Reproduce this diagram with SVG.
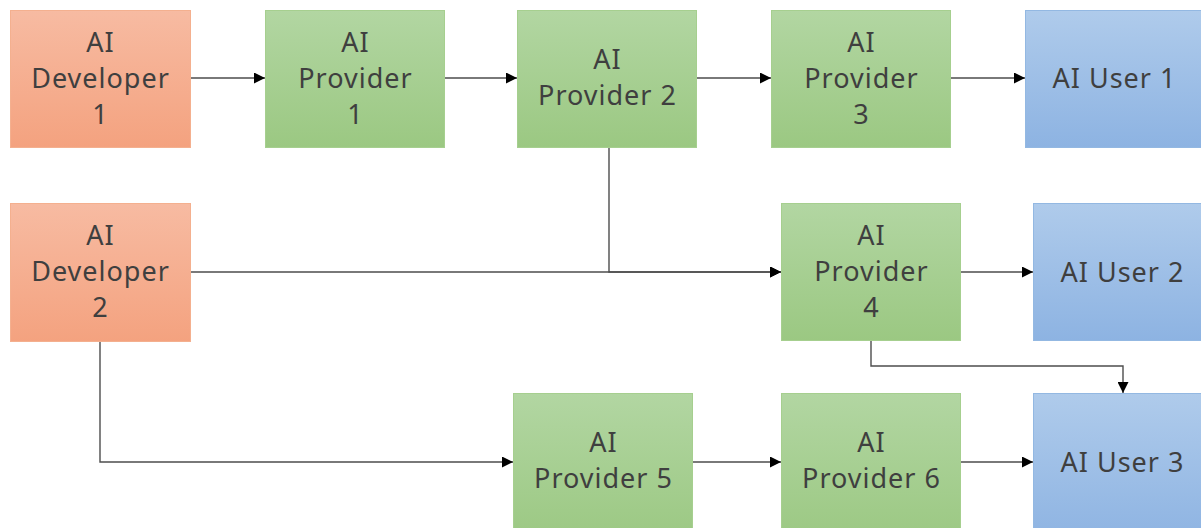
<svg xmlns="http://www.w3.org/2000/svg" width="1201" height="528" viewBox="0 0 1201 528">
  <style>
    .lbl { font-family: "Noto Sans", "DejaVu Sans", sans-serif; font-size: 27px; letter-spacing: 1px; fill: #3f3f3f; text-anchor: middle; }
    .dev { fill: url(#gDev); stroke: #f4b08f; stroke-width: 1; }
    .prov { fill: url(#gProv); stroke: #a6cf8f; stroke-width: 1; }
    .user { fill: url(#gUser); stroke: #93b8e2; stroke-width: 1; }
    .wire { fill: none; stroke: #4d4d4d; stroke-width: 1.4; }
  </style>
  <defs>
    <linearGradient id="gDev" x1="0" y1="0" x2="0" y2="1">
      <stop offset="0" stop-color="#f7bba2"/>
      <stop offset="1" stop-color="#f4a27f"/>
    </linearGradient>
    <linearGradient id="gProv" x1="0" y1="0" x2="0" y2="1">
      <stop offset="0" stop-color="#b2d6a2"/>
      <stop offset="1" stop-color="#9bc882"/>
    </linearGradient>
    <linearGradient id="gUser" x1="0" y1="0" x2="0" y2="1">
      <stop offset="0" stop-color="#afcbeb"/>
      <stop offset="1" stop-color="#8db3e2"/>
    </linearGradient>
    <marker id="arrow" viewBox="0 0 10 10" refX="10" refY="5" markerWidth="11" markerHeight="11" markerUnits="userSpaceOnUse" orient="auto">
      <path d="M0,0 L10,5 L0,10 z" fill="#000000"/>
    </marker>
  </defs>

  <!-- connectors -->
  <g id="connectors">
    <path class="wire" d="M191,78 H265" marker-end="url(#arrow)"/>
    <path class="wire" d="M444,78 H517" marker-end="url(#arrow)"/>
    <path class="wire" d="M697,78 H771" marker-end="url(#arrow)"/>
    <path class="wire" d="M951,78 H1025" marker-end="url(#arrow)"/>
    <path class="wire" d="M191,272 H781" marker-end="url(#arrow)"/>
    <path class="wire" d="M609,148 V272 H781" marker-end="url(#arrow)"/>
    <path class="wire" d="M961,272 H1033" marker-end="url(#arrow)"/>
    <path class="wire" d="M871,341 V366 H1123 V393" marker-end="url(#arrow)"/>
    <path class="wire" d="M100,342 V462 H513" marker-end="url(#arrow)"/>
    <path class="wire" d="M693,462 H781" marker-end="url(#arrow)"/>
    <path class="wire" d="M961,462 H1033" marker-end="url(#arrow)"/>
  </g>

  <!-- row 1 -->
  <g id="dev1">
    <rect class="dev" x="10.5" y="10.5" width="180" height="137"/>
    <text class="lbl" x="100.5" y="52">AI</text>
    <text class="lbl" x="100.5" y="88">Developer</text>
    <text class="lbl" x="100.5" y="124">1</text>
  </g>
  <g id="prov1">
    <rect class="prov" x="265.5" y="10.5" width="179" height="137"/>
    <text class="lbl" x="355.5" y="52">AI</text>
    <text class="lbl" x="355.5" y="88">Provider</text>
    <text class="lbl" x="355.5" y="124">1</text>
  </g>
  <g id="prov2">
    <rect class="prov" x="517.5" y="10.5" width="179" height="137"/>
    <text class="lbl" x="607.5" y="69">AI</text>
    <text class="lbl" x="607.5" y="105">Provider 2</text>
  </g>
  <g id="prov3">
    <rect class="prov" x="771.5" y="10.5" width="179" height="137"/>
    <text class="lbl" x="861.5" y="52">AI</text>
    <text class="lbl" x="861.5" y="88">Provider</text>
    <text class="lbl" x="861.5" y="124">3</text>
  </g>
  <g id="user1">
    <rect class="user" x="1025.5" y="10.5" width="190" height="137"/>
    <text class="lbl" x="1114.5" y="88">AI User 1</text>
  </g>

  <!-- row 2 -->
  <g id="dev2">
    <rect class="dev" x="10.5" y="203.5" width="180" height="138"/>
    <text class="lbl" x="100.5" y="245">AI</text>
    <text class="lbl" x="100.5" y="281">Developer</text>
    <text class="lbl" x="100.5" y="317">2</text>
  </g>
  <g id="prov4">
    <rect class="prov" x="781.5" y="203.5" width="179" height="137"/>
    <text class="lbl" x="871.5" y="245">AI</text>
    <text class="lbl" x="871.5" y="281">Provider</text>
    <text class="lbl" x="871.5" y="317">4</text>
  </g>
  <g id="user2">
    <rect class="user" x="1033.5" y="203.5" width="190" height="137"/>
    <text class="lbl" x="1122.5" y="282">AI User 2</text>
  </g>

  <!-- row 3 -->
  <g id="prov5">
    <rect class="prov" x="513.5" y="393.5" width="179" height="150"/>
    <text class="lbl" x="603.5" y="452">AI</text>
    <text class="lbl" x="603.5" y="488">Provider 5</text>
  </g>
  <g id="prov6">
    <rect class="prov" x="781.5" y="393.5" width="179" height="150"/>
    <text class="lbl" x="871.5" y="452">AI</text>
    <text class="lbl" x="871.5" y="488">Provider 6</text>
  </g>
  <g id="user3">
    <rect class="user" x="1033.5" y="393.5" width="190" height="150"/>
    <text class="lbl" x="1122.5" y="472">AI User 3</text>
  </g>
</svg>
